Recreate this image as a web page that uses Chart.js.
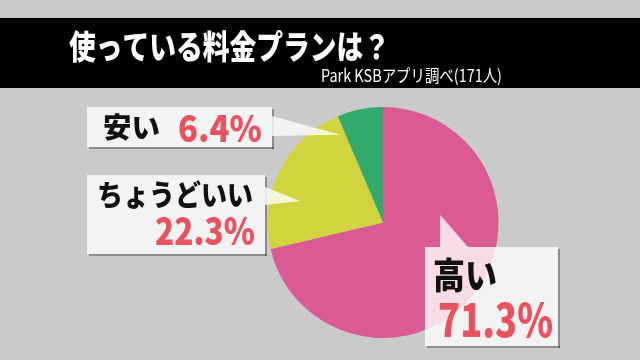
<!DOCTYPE html>
<html lang="ja">
<head>
<meta charset="utf-8">
<script src="https://cdn.jsdelivr.net/npm/chart.js@4/dist/chart.umd.min.js"></script>
<style>
  html, body { margin: 0; padding: 0; background: #cacaca; }
  #wrap { width: 640px; height: 360px; position: relative; }
</style>
</head>
<body>
<div id="wrap"><canvas id="chart" width="640" height="360"></canvas></div>
<script>
const titleText = "使っている料金プランは？";
const sourceText = "Park KSBアプリ調べ(171人)";
const categories = ["高い", "ちょうどいい", "安い"];
const shares = [71.3, 22.3, 6.4];
const sliceColors = ["#d95b92", "#d1d43f", "#33aa6b"];

const JP = '"Noto Sans CJK JP", "Noto Sans", sans-serif';
const RED = "#e9525f";

// callout boxes: box rect, pointer base on the box, pointer tip (angle from 12 o'clock, fraction of radius)
const callouts = [
  {
    idx: 2,
    box: [87, 107, 185, 40],
    base: [[272, 116], [272, 136]],
    tip: { angle: -26, frac: 0.845 },
    lines: [
      { text: () => categories[2], x: 103, y: 138, w: 57, size: 28, color: "#111" },
      { text: () => shares[2].toFixed(1) + "%", x: 178, y: 142, w: 84, size: 36, color: RED },
    ],
  },
  {
    idx: 1,
    box: [87, 175, 178, 79],
    base: [[265, 187], [265, 205]],
    tip: { angle: -75.5, frac: 0.74 },
    lines: [
      { text: () => categories[1], x: 97, y: 206, w: 156, size: 29, color: "#111" },
      { text: () => shares[1].toFixed(1) + "%", x: 155, y: 245, w: 100, size: 37, color: RED },
    ],
  },
  {
    idx: 0,
    box: [425, 247, 133, 99],
    base: [[468, 247], [440, 247]],
    tip: { angle: 82.5, frac: 0.5 },
    lines: [
      { text: () => categories[0], x: 433, y: 289, w: 64, size: 36, color: "#111" },
      { text: () => shares[0].toFixed(1) + "%", x: 438, y: 337, w: 115, size: 46, color: RED },
    ],
  },
];

function fitText(ctx, text, x, y, w, size, color, weight) {
  ctx.font = `${weight || "900"} ${size}px ${JP}`;
  ctx.fillStyle = color;
  ctx.textAlign = "left";
  ctx.textBaseline = "alphabetic";
  const natural = ctx.measureText(text).width;
  ctx.save();
  ctx.translate(x, y);
  ctx.scale(w / natural, 1);
  ctx.fillText(text, 0, 0);
  ctx.restore();
}

const backdrop = {
  id: "backdrop",
  beforeDraw(chart) {
    const ctx = chart.ctx;
    ctx.save();
    ctx.fillStyle = "#cacaca";
    ctx.fillRect(0, 0, chart.width, chart.height);
    ctx.fillStyle = "#000";
    ctx.fillRect(0, 18, chart.width, 70);
    fitText(ctx, titleText, 69, 59, 321, 33, "#fff");
    fitText(ctx, sourceText, 321, 82, 181, 17, "#fff", "normal");
    ctx.restore();
  },
};

const calloutPlugin = {
  id: "callouts",
  afterDraw(chart) {
    const ctx = chart.ctx;
    const arc = chart.getDatasetMeta(0).data[0];
    const cx = arc.x, cy = arc.y, r = arc.outerRadius;
    ctx.save();
    for (const c of callouts) {
      const [bx, by, bw, bh] = c.box;
      const a = (c.tip.angle * Math.PI) / 180;
      const tx = cx + Math.sin(a) * r * c.tip.frac;
      const ty = cy - Math.cos(a) * r * c.tip.frac;
      // shadow strips
      ctx.fillStyle = "rgba(0,0,0,0.3)";
      ctx.fillRect(bx + bw, by + 2, 2, bh);
      ctx.fillRect(bx + 2, by + bh, bw, 2);
      // box + pointer
      ctx.beginPath();
      ctx.rect(bx, by, bw, bh);
      ctx.fillStyle = "rgba(255,255,255,0.78)";
      ctx.fill();
      ctx.beginPath();
      ctx.moveTo(c.base[0][0], c.base[0][1]);
      ctx.lineTo(tx, ty);
      ctx.lineTo(c.base[1][0], c.base[1][1]);
      ctx.closePath();
      ctx.fill();
      for (const l of c.lines) {
        fitText(ctx, l.text(), l.x, l.y, l.w, l.size, l.color);
      }
    }
    ctx.restore();
  },
};

new Chart(document.getElementById("chart").getContext("2d"), {
  type: "pie",
  data: {
    labels: categories,
    datasets: [
      {
        data: shares,
        backgroundColor: sliceColors,
        borderWidth: 0,
      },
    ],
  },
  options: {
    responsive: false,
    animation: false,
    layout: { padding: { left: 267.5, right: 141.5, top: 107, bottom: 22 } },
    plugins: {
      legend: { display: false },
      tooltip: { enabled: false },
      title: { display: false },
    },
  },
  plugins: [backdrop, calloutPlugin],
});
</script>
</body>
</html>
